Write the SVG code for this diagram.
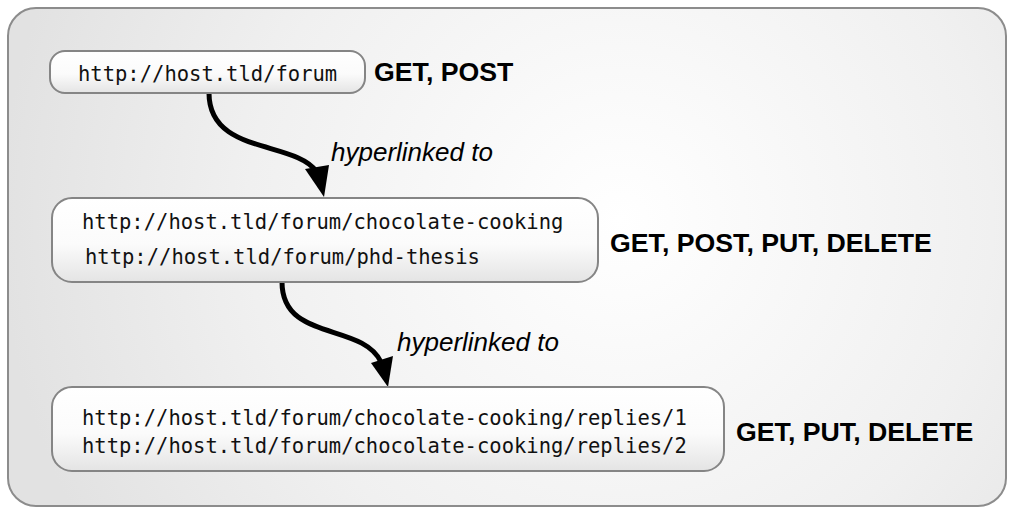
<svg xmlns="http://www.w3.org/2000/svg" width="1014" height="513" viewBox="0 0 1014 513">
<defs>
<radialGradient id="bg" cx="620" cy="220" r="620" gradientUnits="userSpaceOnUse">
<stop offset="0" stop-color="#ffffff"/>
<stop offset="0.6" stop-color="#f0f0f0"/>
<stop offset="1" stop-color="#e2e2e2"/>
</radialGradient>
<linearGradient id="nodefill" x1="0" y1="0" x2="0" y2="1">
<stop offset="0" stop-color="#ffffff"/>
<stop offset="0.55" stop-color="#fbfbfb"/>
<stop offset="1" stop-color="#e4e4e4"/>
</linearGradient>
</defs>
<style>
.panel{fill:url(#bg);stroke:#8c8c8c;stroke-width:2}
.node{fill:url(#nodefill);stroke:#858585;stroke-width:2}
.url{font-family:"DejaVu Sans Mono",monospace;font-size:20.5px;fill:#111}
.verbs{font-family:"Liberation Sans",Arial,sans-serif;font-weight:bold;font-size:26.7px;fill:#000}
.lbl{font-family:"Liberation Sans",Arial,sans-serif;font-style:italic;font-size:26px;fill:#000}
.edge{fill:none;stroke:#000;stroke-width:5}
.head{fill:#000}
</style>
<rect class="panel" x="8" y="8" width="998" height="498" rx="28" ry="28"/>
<g id="connectors">
<path class="edge" d="M209,93 C209,155 295,140 317,172"/>
<polygon class="head" points="305,169 329,165 324,197"/>
<path class="edge" d="M282,282 C282,342 362,322 381,362"/>
<polygon class="head" points="371,363 393,356 388,387"/>
<text class="lbl" x="331" y="161">hyperlinked to</text>
<text class="lbl" x="397" y="351">hyperlinked to</text>
</g>
<g id="node-forum">
<rect class="node" x="50" y="51" width="315" height="42" rx="15" ry="15"/>
<text class="url" x="78" y="81">http://host.tld/forum</text>
<text class="verbs" x="374" y="81">GET, POST</text>
</g>
<g id="node-topics">
<rect class="node" x="52" y="198" width="546" height="84" rx="20" ry="20"/>
<text class="url" x="82" y="229">http://host.tld/forum/chocolate-cooking</text>
<text class="url" x="85" y="264">http://host.tld/forum/phd-thesis</text>
<text class="verbs" x="610" y="252">GET, POST, PUT, DELETE</text>
</g>
<g id="node-replies">
<rect class="node" x="52" y="387" width="672" height="84" rx="20" ry="20"/>
<text class="url" x="82" y="425">http://host.tld/forum/chocolate-cooking/replies/1</text>
<text class="url" x="82" y="453">http://host.tld/forum/chocolate-cooking/replies/2</text>
<text class="verbs" x="736" y="441">GET, PUT, DELETE</text>
</g>
</svg>
